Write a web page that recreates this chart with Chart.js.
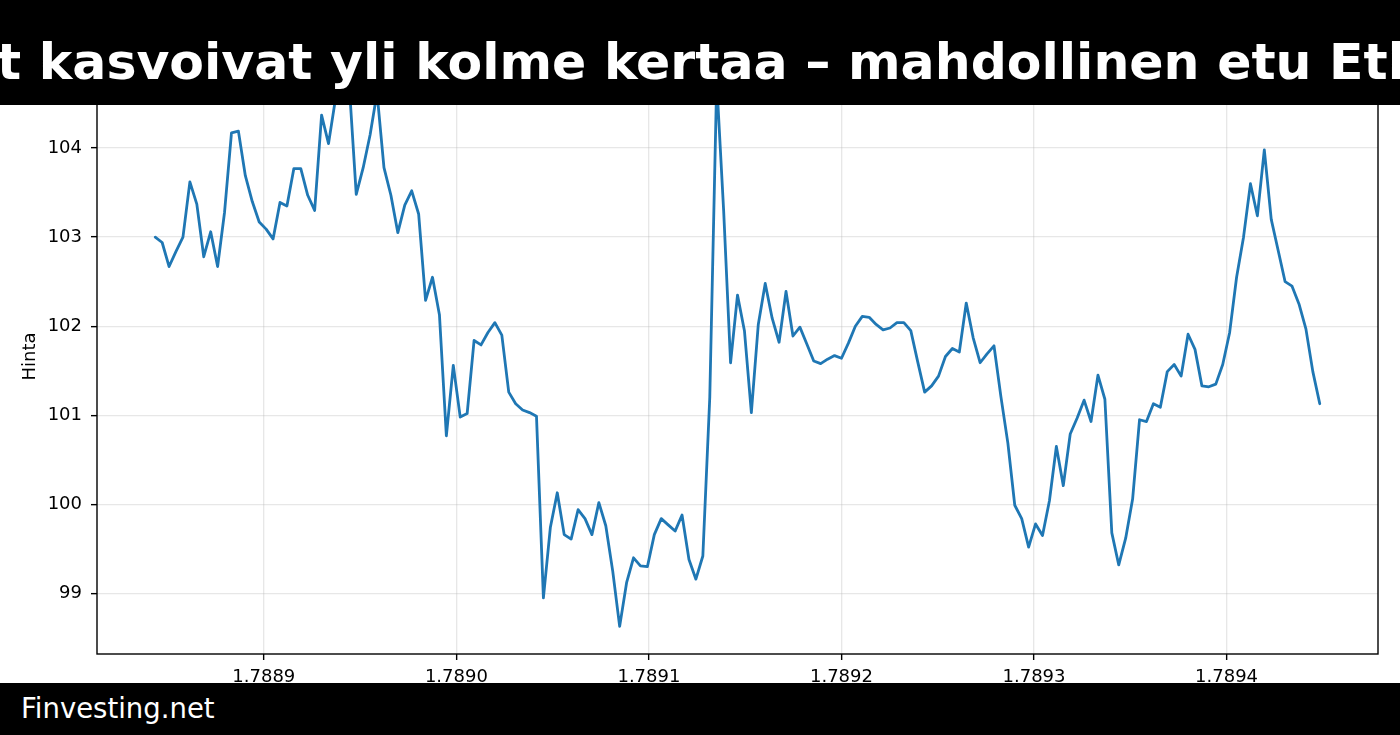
<!DOCTYPE html>
<html>
<head>
<meta charset="utf-8">
<script src="https://cdn.jsdelivr.net/npm/chart.js@4/dist/chart.umd.min.js"></script>
<style>
  html, body { margin: 0; padding: 0; background: #fff; }
  #wrap { position: relative; width: 1400px; height: 735px; overflow: hidden; background: #fff; }
  #chart { position: absolute; left: 0; top: 0; }
  #titlebar { position: absolute; left: 0; top: 0; width: 1400px; height: 105px; background: #000; overflow: hidden; }
  #titlebar span { position: absolute; left: -3px; top: 37px; white-space: nowrap; color: #fff;
    font-family: "DejaVu Sans", sans-serif; font-weight: bold; font-size: 50.5px; line-height: 50.5px; }
  #footer { position: absolute; left: 0; top: 683px; width: 1400px; height: 52px; background: #000; overflow: hidden; }
  #footer span { position: absolute; left: 21px; top: 12px; white-space: nowrap; color: #fff;
    font-family: "DejaVu Sans", sans-serif; font-size: 27.5px; line-height: 27.5px; }
</style>
</head>
<body>
<div id="wrap">
  <canvas id="chart" width="1400" height="735"></canvas>
  <div id="titlebar"><span>t kasvoivat yli kolme kertaa – mahdollinen etu Eth</span></div>
  <div id="footer"><span>Finvesting.net</span></div>
</div>
<script>
// Hourly observations (Unix seconds); first sample time and sampling interval
const START_TIME = 1788843600;
const STEP_SECONDS = 3600;

// Price values ("Hinta")
const prices = [
  103.00, 102.94, 102.67, 102.84, 103.00, 103.62, 103.37, 102.78, 103.06, 102.67,
  103.28, 104.17, 104.19, 103.69, 103.40, 103.17, 103.09, 102.98, 103.39, 103.35,
  103.77, 103.77, 103.47, 103.30, 104.37, 104.05, 104.55, 104.62, 104.70, 103.48,
  103.78, 104.15, 104.62, 103.78, 103.47, 103.05, 103.36, 103.52, 103.26, 102.29,
  102.55, 102.13, 100.77, 101.56, 100.98, 101.02, 101.84, 101.79, 101.93, 102.04,
  101.90, 101.26, 101.13, 101.06, 101.03, 100.99, 98.95, 99.74, 100.13, 99.66,
  99.61, 99.94, 99.84, 99.66, 100.02, 99.76, 99.25, 98.63, 99.12, 99.40,
  99.31, 99.30, 99.66, 99.84, 99.77, 99.70, 99.88, 99.38, 99.16, 99.42,
  101.20, 104.75, 103.30, 101.59, 102.35, 101.95, 101.03, 102.02, 102.48, 102.09,
  101.82, 102.39, 101.89, 101.99, 101.80, 101.61, 101.58, 101.63, 101.67, 101.64,
  101.81, 102.00, 102.11, 102.10, 102.02, 101.96, 101.98, 102.04, 102.04, 101.95,
  101.60, 101.26, 101.33, 101.44, 101.66, 101.75, 101.71, 102.26, 101.87, 101.59,
  101.69, 101.78, 101.21, 100.69, 99.99, 99.84, 99.52, 99.78, 99.65, 100.04,
  100.65, 100.21, 100.79, 100.97, 101.17, 100.93, 101.45, 101.18, 99.68, 99.32,
  99.62, 100.06, 100.95, 100.93, 101.13, 101.09, 101.49, 101.57, 101.44, 101.91,
  101.74, 101.33, 101.32, 101.35, 101.57, 101.93, 102.55, 103.00, 103.60, 103.24,
  103.98, 103.20, 102.85, 102.50, 102.45, 102.25, 101.97, 101.49, 101.13
];

// Tick positions
const xTickValues = [1788900000, 1789000000, 1789100000, 1789200000, 1789300000, 1789400000];
const yTickValues = [99, 100, 101, 102, 103, 104];

const points = prices.map((p, i) => ({ x: START_TIME + i * STEP_SECONDS, y: p }));

const FONT = "DejaVu Sans";
const GRID = 'rgba(176,176,176,0.3)';

const frame = {
  id: 'frame',
  afterDatasetsDraw(chart) {
    const { ctx, chartArea: a } = chart;
    ctx.save();
    ctx.strokeStyle = '#000';
    ctx.lineWidth = 1.4;
    ctx.strokeRect(a.left, a.top, a.right - a.left, a.bottom - a.top);
    ctx.restore();
  }
};

new Chart(document.getElementById('chart'), {
  type: 'line',
  data: {
    datasets: [{
      label: 'Hinta',
      data: points,
      borderColor: '#1f77b4',
      borderWidth: 2.8,
      pointRadius: 0,
      tension: 0,
      fill: false,
      borderJoinStyle: 'round',
      borderCapStyle: 'round'
    }]
  },
  options: {
    responsive: false,
    animation: false,
    devicePixelRatio: 1,
    layout: { padding: { left: 0, right: 22, top: 59, bottom: 0 } },
    plugins: { legend: { display: false }, tooltip: { enabled: false }, title: { display: false } },
    scales: {
      x: {
        type: 'linear',
        min: 1788813360,
        max: 1789478640,
        afterBuildTicks(scale) { scale.ticks = xTickValues.map(v => ({ value: v })); },
        afterFit(scale) { scale.height = 81; },
        grid: { color: GRID, lineWidth: 1.3, tickColor: '#000', tickLength: 6, tickWidth: 1.4 },
        border: { display: false },
        ticks: {
          color: '#000',
          padding: 7,
          maxRotation: 0,
          font: { family: FONT, size: 18 },
          callback: v => (v / 1e9).toFixed(4)
        }
      },
      y: {
        type: 'linear',
        min: 98.32,
        max: 105.0,
        afterBuildTicks(scale) { scale.ticks = yTickValues.map(v => ({ value: v })); },
        afterFit(scale) { scale.width = 97; },
        grid: { color: GRID, lineWidth: 1.3, tickColor: '#000', tickLength: 6, tickWidth: 1.4 },
        border: { display: false },
        title: {
          display: true,
          text: 'Hinta',
          color: '#000',
          font: { family: FONT, size: 18 },
          padding: { top: 20, bottom: 0 }
        },
        ticks: {
          color: '#000',
          padding: 9,
          font: { family: FONT, size: 18 },
          callback: v => String(v)
        }
      }
    }
  },
  plugins: [frame]
});
</script>
</body>
</html>
